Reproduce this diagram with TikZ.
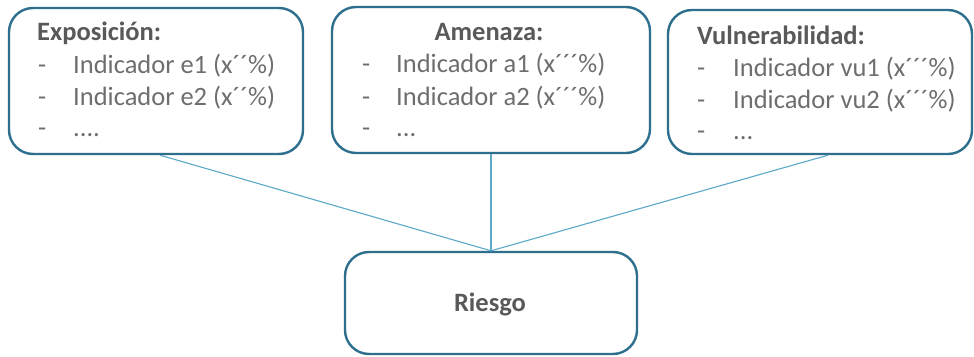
\documentclass[tikz,border=0pt]{standalone}
\usepackage{fontspec}
\setmainfont{Carlito}
\definecolor{boxline}{RGB}{46,111,142}
\definecolor{conline}{RGB}{91,168,200}
\definecolor{titlegray}{RGB}{89,89,89}
\definecolor{itemgray}{RGB}{110,110,110}
\begin{document}
\begin{tikzpicture}[x=1pt,y=1pt,
  box/.style={draw=boxline,line width=2.4pt,rounded corners=24pt,fill=white,inner sep=0pt},
  conn/.style={draw=conline,line width=1.1pt},
  ttl/.style={anchor=base west,inner sep=0pt,text=titlegray,font=\fontsize{26.5}{30}\selectfont\bfseries},
  itm/.style={anchor=base west,inner sep=0pt,text=itemgray,font=\fontsize{26.5}{30}\selectfont}]
\useasboundingbox (0,0) rectangle (974,356);
\node[box,minimum width=294pt,minimum height=146pt] (b1) at (156,275) {};
\node[box,minimum width=318pt,minimum height=146pt] (b2) at (491,276) {};
\node[box,minimum width=304pt,minimum height=144pt] (b3) at (820,274) {};
\node[box,minimum width=292pt,minimum height=102pt] (r) at (491,53) {};
\draw[conn] ([xshift=4pt]b1.south) -- (r.north);
\draw[conn] (b2.south) -- (r.north);
\draw[conn] ([xshift=8pt]b3.south) -- (r.north);
% box 1
\node[ttl] (t1) at (37,315) {Exposición:};
\node[itm] (d11) at (38,282) {-};
\node[itm] (i11) at (73,282) {Indicador e1 (x´´\%)};
\node[itm] (d12) at (38,250) {-};
\node[itm] (i12) at (73,250) {Indicador e2 (x´´\%)};
\node[itm] (d13) at (38,219) {-};
\node[itm] (i13) at (73,219) {....};
% box 2
\node[ttl,anchor=base] (t2) at (489,315) {Amenaza:};
\node[itm] (d21) at (362,283) {-};
\node[itm] (i21) at (396,283) {Indicador a1 (x´´´\%)};
\node[itm] (d22) at (362,250) {-};
\node[itm] (i22) at (396,250) {Indicador a2 (x´´´\%)};
\node[itm] (d23) at (362,219) {-};
\node[itm] (i23) at (396,219) {...};
% box 3
\node[ttl] (t3) at (697,311) {Vulnerabilidad:};
\node[itm] (d31) at (697,279) {-};
\node[itm] (i31) at (733,279) {Indicador vu1 (x´´´\%)};
\node[itm] (d32) at (697,247) {-};
\node[itm] (i32) at (733,247) {Indicador vu2 (x´´´\%)};
\node[itm] (d33) at (697,216) {-};
\node[itm] (i33) at (733,216) {...};
% riesgo
\node[ttl,anchor=base] (tr) at (490,44) {Riesgo};
\end{tikzpicture}
\end{document}
